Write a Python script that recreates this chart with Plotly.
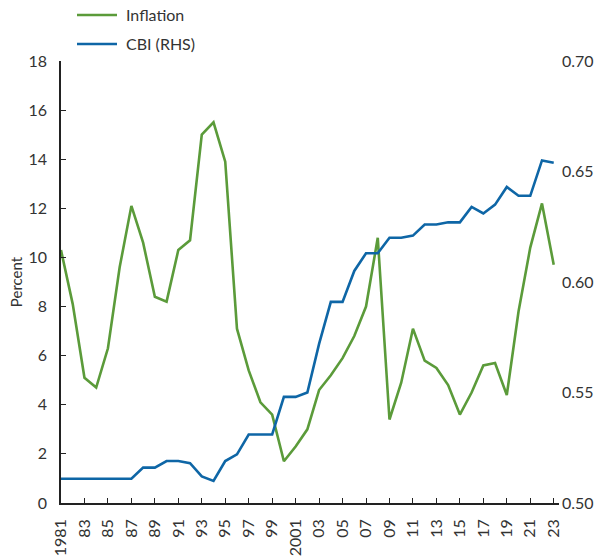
import plotly.graph_objects as go

years = list(range(1981, 2024))
inflation = [10.3, 8.1, 5.1, 4.7, 6.3, 9.6, 12.1, 10.6, 8.4, 8.2,
             10.3, 10.7, 15.0, 15.5, 13.9, 7.1, 5.4, 4.1, 3.6, 1.7,
             2.3, 3.0, 4.6, 5.2, 5.9, 6.8, 8.0, 10.8, 3.4, 4.9,
             7.1, 5.8, 5.5, 4.8, 3.6, 4.5, 5.6, 5.7, 4.4, 7.8,
             10.4, 12.2, 9.7]
cbi = [0.511, 0.511, 0.511, 0.511, 0.511, 0.511, 0.511, 0.516, 0.516, 0.519,
       0.519, 0.518, 0.512, 0.510, 0.519, 0.522, 0.531, 0.531, 0.531, 0.548,
       0.548, 0.550, 0.572, 0.591, 0.591, 0.605, 0.613, 0.613, 0.620, 0.620,
       0.621, 0.626, 0.626, 0.627, 0.627, 0.634, 0.631, 0.635, 0.643, 0.639,
       0.639, 0.655, 0.654]
tick_years = list(range(1981, 2024, 2))
tick_text = ["1981"] + [("2001" if y == 2001 else f"{y % 100:02d}") for y in tick_years[1:]]
left_ticks = [0, 2, 4, 6, 8, 10, 12, 14, 16, 18]
right_ticks = [0.50, 0.55, 0.60, 0.65, 0.70]

names = ["Inflation", "CBI (RHS)"]
colors = ["#5b9b3a", "#0e66a6"]
FONT = "Lato"
TXT = "#333333"

W, H = 608, 558
L, R, T, B = 61, W - 559, 61, H - 503
PW, PH = W - L - R, H - T - B

fig = go.Figure()
fig.add_trace(go.Scatter(x=years, y=inflation, name=names[0], mode="lines",
                         line=dict(color=colors[0], width=2.6), yaxis="y"))
fig.add_trace(go.Scatter(x=years, y=cbi, name=names[1], mode="lines",
                         line=dict(color=colors[1], width=2.6), yaxis="y2"))

# legend drawn manually (top-left)
for i, (n, c) in enumerate(zip(names, colors)):
    ypx = 15 + 29 * i
    yp = 1 + (61 - ypx) / PH
    fig.add_shape(type="line", xref="paper", yref="paper",
                  x0=(77 - 61) / PW, x1=(117 - 61) / PW, y0=yp, y1=yp,
                  line=dict(color=c, width=2.6))
    fig.add_annotation(xref="paper", yref="paper", x=(125 - 61) / PW, y=yp,
                       text=n, showarrow=False, xanchor="left", yanchor="middle",
                       borderpad=0,
                       font=dict(family=FONT, size=16, color=TXT))

fig.update_layout(
    width=W, height=H,
    margin=dict(l=L, r=R, t=T, b=B, autoexpand=False),
    paper_bgcolor="white", plot_bgcolor="white",
    showlegend=False,
    font=dict(family=FONT, size=16, color=TXT),
    xaxis=dict(range=[1981, 2023.45], tickvals=tick_years, ticktext=tick_text,
               tickangle=-90, ticks="inside", ticklen=5, tickcolor="#222",
               ticklabelstandoff=8,
               showline=True, linecolor="#222", linewidth=1.5,
               showgrid=False, zeroline=False, automargin=False,
               tickfont=dict(size=16, color=TXT)),
    yaxis=dict(range=[0, 18], tickvals=left_ticks, ticks="inside", ticklen=5,
               tickcolor="#222", showline=True, linecolor="#222", linewidth=1.5,
               ticklabelstandoff=9,
               showgrid=False, zeroline=False, automargin=False,
               title=dict(text="Percent", standoff=2, font=dict(size=15, color=TXT)),
               tickfont=dict(size=16, color=TXT)),
    yaxis2=dict(range=[0.5, 0.7], tickvals=right_ticks, tickformat=".2f",
                overlaying="y", side="right", showline=False, ticks="",
                showgrid=False, zeroline=False, automargin=False,
                ticklabelstandoff=2,
                tickfont=dict(size=16, color=TXT)),
)

fig.write_html("out.html",
               config={"displayModeBar": False},
               post_script="document.body.style.margin='0';document.body.style.overflow='hidden';")
